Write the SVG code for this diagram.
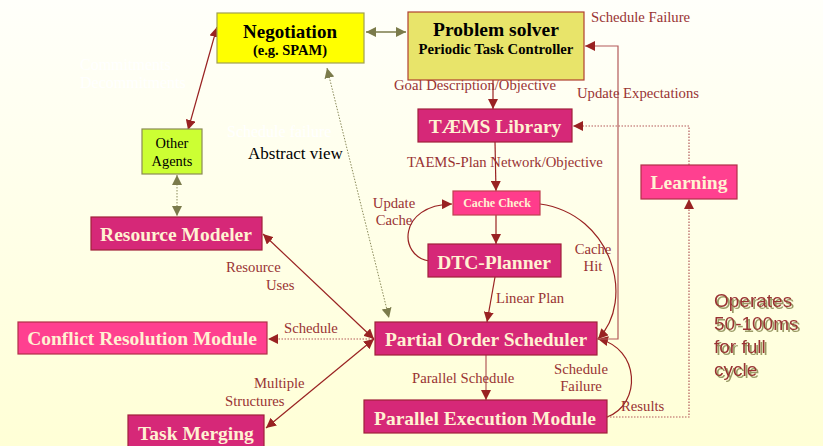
<svg xmlns="http://www.w3.org/2000/svg" width="823" height="446" viewBox="0 0 823 446">
  <defs>
    <linearGradient id="bg" x1="0" y1="0" x2="0" y2="1">
      <stop offset="0" stop-color="#FFFFFA"/>
      <stop offset="1" stop-color="#FFFFD6"/>
    </linearGradient>
    <filter id="shadow" x="-10%" y="-10%" width="130%" height="130%">
      <feOffset in="SourceAlpha" dx="2" dy="2" result="off"/>
      <feFlood flood-color="#9A9A66"/>
      <feComposite in2="off" operator="in"/>
      <feMerge>
        <feMergeNode/>
        <feMergeNode in="SourceGraphic"/>
      </feMerge>
    </filter>
    <marker id="ahRed" viewBox="0 0 10 10" refX="10" refY="5" markerWidth="10" markerHeight="10" markerUnits="userSpaceOnUse" orient="auto-start-reverse">
      <path d="M0,0 L10,5 L0,10 z" fill="#992222"/>
    </marker>
    <marker id="ahOlive" viewBox="0 0 10 10" refX="10" refY="5" markerWidth="10" markerHeight="10" markerUnits="userSpaceOnUse" orient="auto-start-reverse">
      <path d="M0,0 L10,5 L0,10 z" fill="#7B7B4B"/>
    </marker>
    <style>
      .box { stroke-width: 1.2; }
      .mag { fill: #D62878; stroke: #A0203A; }
      .pink { fill: #FF4090; stroke: #B03048; }
      .title { font-family: "Liberation Serif", "Times New Roman", serif; font-weight: bold; fill: #FFF2D2; text-anchor: middle; }
      .dark { font-family: "Liberation Serif", "Times New Roman", serif; font-weight: bold; fill: #000000; text-anchor: middle; }
      .lbl { font-family: "Liberation Serif", "Times New Roman", serif; font-size: 14.7px; fill: #993333; }
      .ghost { font-family: "Liberation Serif", "Times New Roman", serif; font-size: 16px; fill: #FFFFFF; }
      .red { fill: none; stroke: #992222; stroke-width: 1.2; }
      .redline { fill: none; stroke: #B35A5A; stroke-width: 1.2; }
      .reddot { fill: none; stroke: #B35A5A; stroke-width: 1.2; stroke-dasharray: 1.5 1.5; }
      .olive { fill: none; stroke: #7B7B4B; stroke-width: 1.5; }
      .olivedot { fill: none; stroke: #8A8A5A; stroke-width: 1; stroke-dasharray: 1.5 1.5; }
      .note { font-family: "Liberation Sans", Arial, sans-serif; font-size: 19px; fill: #993333; }
    </style>
  </defs>

  <rect x="0" y="0" width="823" height="446" fill="url(#bg)"/>

  <!-- faint white annotations -->
  <text class="ghost" x="80" y="70">Commitments</text>
  <text class="ghost" x="80" y="88">Decommitments</text>
  <text class="ghost" x="227" y="137">Schedule failure</text>

  <!-- connectors -->
  <g id="connectors">
    <line class="olive" x1="366" y1="32" x2="406" y2="32" marker-start="url(#ahOlive)" marker-end="url(#ahOlive)"/>
    <line class="red" x1="188" y1="130" x2="217" y2="27" marker-start="url(#ahRed)" marker-end="url(#ahRed)"/>
    <line class="olivedot" x1="177" y1="175" x2="177" y2="216" marker-start="url(#ahOlive)" marker-end="url(#ahOlive)"/>
    <line class="olivedot" x1="327" y1="68" x2="389" y2="318" marker-start="url(#ahOlive)" marker-end="url(#ahOlive)"/>
    <line class="red" x1="493" y1="80" x2="493" y2="109" marker-end="url(#ahRed)"/>
    <line class="red" x1="495" y1="142" x2="496" y2="191" marker-end="url(#ahRed)"/>
    <line class="red" x1="496" y1="215" x2="496" y2="244" marker-end="url(#ahRed)"/>
    <path class="red" d="M429,261 C398,256 398,205 452,204" marker-end="url(#ahRed)"/>
    <path class="red" d="M540,204 C612,214 636,300 598,339" marker-end="url(#ahRed)"/>
    <line class="red" x1="495" y1="277" x2="487" y2="322" marker-end="url(#ahRed)"/>
    <line class="redline" x1="486" y1="355" x2="486" y2="400" marker-end="url(#ahRed)"/>
    <path class="red" d="M607,417 C642,404 640,348 598,339" marker-end="url(#ahRed)"/>
    <path class="redline" d="M597,339 L618,339 L618,46 L585,46" marker-end="url(#ahRed)"/>
    <path class="reddot" d="M689,165 L689,126 L573,126" marker-end="url(#ahRed)"/>
    <path class="reddot" d="M607,417 L689,417 L689,199" marker-end="url(#ahRed)"/>
    <line class="reddot" x1="373" y1="339" x2="268" y2="339" marker-end="url(#ahRed)"/>
    <line class="red" x1="374" y1="339" x2="263" y2="234" marker-start="url(#ahRed)" marker-end="url(#ahRed)"/>
    <line class="red" x1="374" y1="339" x2="266" y2="428" marker-start="url(#ahRed)" marker-end="url(#ahRed)"/>
  </g>

  <!-- connector labels -->
  <text class="lbl" x="591" y="22">Schedule Failure</text>
  <text class="lbl" x="394" y="90">Goal Description/Objective</text>
  <text class="lbl" x="577" y="98">Update Expectations</text>
  <text class="lbl" x="407" y="167">TAEMS-Plan Network/Objective</text>
  <text class="lbl" x="394" y="208" text-anchor="middle">Update</text>
  <text class="lbl" x="394" y="225" text-anchor="middle">Cache</text>
  <text class="lbl" x="593" y="254" text-anchor="middle">Cache</text>
  <text class="lbl" x="593" y="271" text-anchor="middle">Hit</text>
  <text class="lbl" x="226" y="272">Resource</text>
  <text class="lbl" x="266" y="290">Uses</text>
  <text class="lbl" x="496" y="303">Linear Plan</text>
  <text class="lbl" x="284" y="333">Schedule</text>
  <text class="lbl" x="581" y="374" text-anchor="middle">Schedule</text>
  <text class="lbl" x="581" y="391" text-anchor="middle">Failure</text>
  <text class="lbl" x="412" y="383">Parallel Schedule</text>
  <text class="lbl" x="254" y="388">Multiple</text>
  <text class="lbl" x="225" y="406">Structures</text>
  <text class="lbl" x="621" y="411">Results</text>
  <text x="248" y="159" font-family="Liberation Serif, Times New Roman, serif" font-size="17" fill="#000">Abstract view</text>

  <!-- nodes -->
  <g id="negotiation">
    <rect class="box" x="217" y="13" width="147" height="50" fill="#FFFF00" stroke="#A0A050"/>
    <text class="dark" x="290" y="38" font-size="19">Negotiation</text>
    <text class="dark" x="290" y="55" font-size="14.5">(e.g. SPAM)</text>
  </g>
  <g id="problem-solver">
    <rect class="box" x="408" y="12" width="176" height="68" fill="#E8E46A" stroke="#B04030"/>
    <text class="dark" x="496" y="36" font-size="19.5">Problem solver</text>
    <text class="dark" x="496" y="54" font-size="14.7">Periodic Task Controller</text>
  </g>
  <g id="other-agents">
    <rect class="box" x="142" y="129" width="60" height="45" fill="#CCFF33" stroke="#8A8A55"/>
    <text x="172" y="148" font-family="Liberation Serif, Times New Roman, serif" font-size="14.4" text-anchor="middle" fill="#000">Other</text>
    <text x="172" y="166" font-family="Liberation Serif, Times New Roman, serif" font-size="14.4" text-anchor="middle" fill="#000">Agents</text>
  </g>
  <g id="taems-library">
    <rect class="box mag" x="418" y="109" width="154" height="33"/>
    <text class="title" x="495" y="133" font-size="19.5">TÆMS Library</text>
  </g>
  <g id="learning">
    <rect class="box pink" x="641" y="165" width="96" height="34"/>
    <text class="title" x="689" y="189" font-size="19.5">Learning</text>
  </g>
  <g id="cache-check">
    <rect class="box" x="453" y="191" width="87" height="24" fill="#FF3C8C" stroke="#C04050"/>
    <text class="title" x="497" y="207" font-size="12">Cache Check</text>
  </g>
  <g id="dtc-planner">
    <rect class="box mag" x="428" y="244" width="133" height="33"/>
    <text class="title" x="494" y="269" font-size="19.5">DTC-Planner</text>
  </g>
  <g id="resource-modeler">
    <rect class="box mag" x="91" y="217" width="171" height="33"/>
    <text class="title" x="176" y="241" font-size="19.5">Resource Modeler</text>
  </g>
  <g id="partial-order-scheduler">
    <rect class="box mag" x="375" y="322" width="222" height="33"/>
    <text class="title" x="486" y="346" font-size="19.5">Partial Order Scheduler</text>
  </g>
  <g id="conflict-resolution">
    <rect class="box pink" x="18" y="322" width="249" height="32"/>
    <text class="title" x="142" y="345" font-size="19.5">Conflict Resolution Module</text>
  </g>
  <g id="parallel-execution">
    <rect class="box mag" x="364" y="400" width="243" height="33"/>
    <text class="title" x="485" y="425" font-size="19.5">Parallel Execution Module</text>
  </g>
  <g id="task-merging">
    <rect class="box mag" x="128" y="415" width="136" height="40"/>
    <text class="title" x="196" y="440" font-size="19.5">Task Merging</text>
  </g>

  <!-- side note with drop shadow -->
  <g id="timing-note" class="note" filter="url(#shadow)">
    <text x="714" y="307">Operates</text>
    <text x="714" y="330">50-100ms</text>
    <text x="714" y="353">for full</text>
    <text x="714" y="376">cycle</text>
  </g>
</svg>
